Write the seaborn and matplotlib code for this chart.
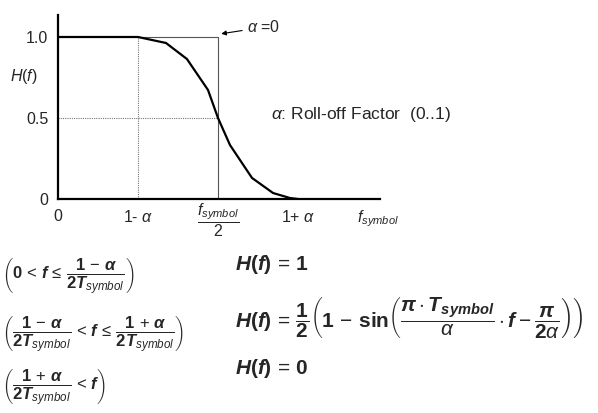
import matplotlib
matplotlib.use("Agg")
import matplotlib.pyplot as plt
import seaborn as sns
import pandas as pd

# Raised-cosine roll-off response, frequency normalised so f_symbol/2 -> 1.0 (alpha = 0.5)
freq = [0.0, 0.5, 0.675, 0.806, 0.9375, 1.0, 1.075, 1.2125, 1.344, 1.45, 1.5]
response = [1.0, 1.0, 0.963, 0.864, 0.673, 0.5, 0.333, 0.13, 0.037, 0.006, 0.0]

x_ticks = [0.0, 0.5, 1.0, 1.5, 2.0]
x_labels = ["0", r"1- $\alpha$", "", r"1+ $\alpha$", r"$f_{\mathit{symbol}}$"]
half_symbol_label = r"$\dfrac{f_{\mathit{symbol}}}{2}$"
y_ticks = [0.0, 0.5, 1.0]
y_labels = ["0", "0.5", "1.0"]

sns.set_style("white")
plt.rcParams["font.family"] = ["Liberation Sans", "DejaVu Sans"]
plt.rcParams["mathtext.fontset"] = "custom"
plt.rcParams["mathtext.rm"] = "Liberation Sans"
plt.rcParams["mathtext.it"] = "Liberation Sans:italic"
plt.rcParams["mathtext.bf"] = "Liberation Sans:bold"
plt.rcParams["mathtext.bfit"] = "Liberation Sans:bold:italic"
plt.rcParams["mathtext.sf"] = "Liberation Sans"

W, H = 598, 413
fig = plt.figure(figsize=(W / 100, H / 100), dpi=100)


def fx(x):
    return x / W


def fy(y):
    return 1 - y / H


# axes box: x 58..380 px, y 15..199 px
ax = fig.add_axes([fx(58), fy(199), (380 - 58) / W, (199 - 15) / H])
ax.set_xlim(0, (380 - 58) / 160)
ax.set_ylim(0, (199 - 15) / 162)

# reference guides
ax.plot([0.5, 0.5], [0, 1.0], color="#777777", lw=0.8, ls=(0, (1, 1)))
ax.plot([0, 1.0], [0.5, 0.5], color="#777777", lw=0.8, ls=(0, (1, 1)))
ax.plot([0.5, 1.0, 1.0], [1.0, 1.0, 0.0], color="#555555", lw=0.8)

df = pd.DataFrame({"f": freq, "H": response})
sns.lineplot(data=df, x="f", y="H", ax=ax, color="black", lw=1.6, zorder=5)

for side in ["top", "right"]:
    ax.spines[side].set_visible(False)
for side in ["left", "bottom"]:
    ax.spines[side].set_linewidth(1.6)
    ax.spines[side].set_color("black")

ax.set_xticks(x_ticks)
ax.set_xticklabels(x_labels, fontsize=11.5)
ax.set_yticks(y_ticks)
ax.set_yticklabels(y_labels, fontsize=11.5)
ax.tick_params(axis="x", length=0, pad=7)
ax.tick_params(axis="y", length=0, pad=7)
ax.set_xlabel("")
ax.set_ylabel("")

ax.text(1.0, -0.01, half_symbol_label, transform=ax.get_xaxis_transform(),
        fontsize=11.5, ha="center", va="top")

fig.text(fx(10), fy(77), r"$H(f)$", fontsize=11.5, va="center", ha="left")

ax.annotate(r"$\alpha$ =0", xy=(1.02, 1.02), xytext=(1.18, 1.06),
            fontsize=11.5, va="center", ha="left",
            arrowprops=dict(arrowstyle="-|>", color="black", lw=0.8,
                            mutation_scale=7, shrinkA=1, shrinkB=0))

fig.text(fx(271), fy(114), r"$\alpha$: Roll-off Factor  (0..1)", fontsize=12.5,
         va="center", ha="left")

# piecewise definition
fs_cond = 12
fig.text(fx(2), fy(277),
         r"$\left(\mathbf{0}\, < \,\mathbfit{f}\, \leq \,\dfrac{\mathbf{1}\,-\,\mathbfit{\alpha}}{\mathbf{2}\mathbfit{T}_{\mathit{symbol}}}\right)$",
         fontsize=fs_cond, va="center", ha="left")
fig.text(fx(2), fy(335),
         r"$\left(\dfrac{\mathbf{1}\,-\,\mathbfit{\alpha}}{\mathbf{2}\mathbfit{T}_{\mathit{symbol}}}\, < \,\mathbfit{f}\, \leq \,\dfrac{\mathbf{1}\,+\,\mathbfit{\alpha}}{\mathbf{2}\mathbfit{T}_{\mathit{symbol}}}\right)$",
         fontsize=fs_cond, va="center", ha="left")
fig.text(fx(2), fy(388),
         r"$\left(\dfrac{\mathbf{1}\,+\,\mathbfit{\alpha}}{\mathbf{2}\mathbfit{T}_{\mathit{symbol}}}\, < \,\mathbfit{f}\right)$",
         fontsize=fs_cond, va="center", ha="left")

fs_eq = 15
fig.text(fx(235), fy(265), r"$\mathbfit{H}\mathbf{(}\mathbfit{f}\mathbf{)}\, = \,\mathbf{1}$",
         fontsize=fs_eq, va="center", ha="left")
fig.text(fx(235), fy(317),
         r"$\mathbfit{H}\mathbf{(}\mathbfit{f}\mathbf{)}\, = \,\dfrac{\mathbf{1}}{\mathbf{2}}\left(\mathbf{1}\, - \,\mathbf{sin}\left(\dfrac{\mathbfit{\pi}\cdot\mathbfit{T}_{\mathbfit{symbol}}}{\mathit{\alpha}}\cdot\mathbfit{f} - \dfrac{\mathbfit{\pi}}{\mathbf{2}\mathit{\alpha}}\right)\right)$",
         fontsize=fs_eq, va="center", ha="left")
fig.text(fx(235), fy(368), r"$\mathbfit{H}\mathbf{(}\mathbfit{f}\mathbf{)}\, = \,\mathbf{0}$",
         fontsize=fs_eq, va="center", ha="left")

fig.savefig("out.png", dpi=100, facecolor="white")
